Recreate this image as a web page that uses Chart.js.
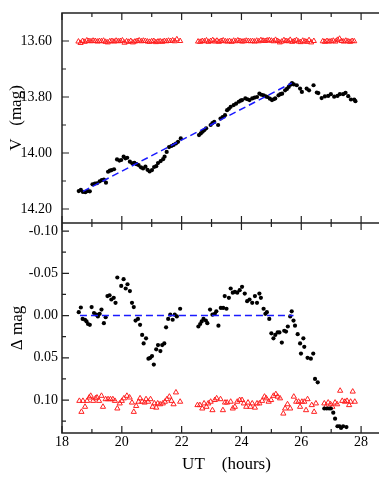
<!DOCTYPE html>
<html>
<head>
<meta charset="utf-8">
<script src="https://cdn.jsdelivr.net/npm/chart.js@4"></script>
<style>
  html, body { margin: 0; padding: 0; background: #fff; overflow: hidden; }
  canvas { display: block; }
</style>
</head>
<body>
<canvas id="lc" width="396" height="491"></canvas>
<script>
// ---- top panel: V magnitude of the target (black) and the check star (red)
const vTime = [18.56,18.63,18.70,18.78,18.86,18.93,19.02,19.10,19.17,19.26,19.33,19.40,19.47,19.54,19.60,19.66,19.74,19.84,19.92,19.98,
  20.06,20.12,20.18,20.27,20.35,20.42,20.49,20.56,20.64,20.71,20.79,20.86,20.93,21.01,21.08,21.15,21.21,21.30,21.38,21.43,
  21.50,21.58,21.66,21.73,21.81,21.88,21.97,22.58,22.64,22.70,22.76,22.82,22.97,23.03,23.09,23.22,23.30,23.37,23.45,23.52,
  23.58,23.64,23.74,23.82,23.91,23.97,24.02,24.13,24.20,24.27,24.36,24.44,24.52,24.60,24.67,24.74,24.81,24.87,24.95,25.02,
  25.08,25.13,25.24,25.30,25.36,25.46,25.52,25.58,25.64,25.69,25.75,25.85,25.96,26.02,26.18,26.26,26.41,26.52,26.57,26.68,
  26.79,26.90,26.99,27.10,27.21,27.29,27.40,27.48,27.57,27.66,27.77,27.81];
const vMag = [14.136,14.132,14.139,14.140,14.136,14.137,14.112,14.109,14.108,14.101,14.097,14.095,14.106,14.067,14.063,14.061,14.058,14.023,14.027,14.025,
  14.013,14.019,14.017,14.031,14.037,14.035,14.040,14.043,14.051,14.055,14.049,14.060,14.066,14.061,14.050,14.047,14.036,14.029,14.022,14.013,
  13.996,13.979,13.975,13.971,13.966,13.960,13.948,13.936,13.930,13.924,13.918,13.912,13.900,13.893,13.889,13.900,13.877,13.872,13.865,13.847,
  13.842,13.835,13.829,13.824,13.817,13.813,13.811,13.805,13.808,13.811,13.805,13.802,13.800,13.788,13.792,13.794,13.798,13.800,13.806,13.811,
  13.808,13.805,13.794,13.790,13.788,13.776,13.771,13.764,13.756,13.750,13.755,13.758,13.770,13.782,13.770,13.776,13.758,13.784,13.786,13.804,
  13.798,13.796,13.790,13.799,13.796,13.790,13.790,13.785,13.797,13.809,13.809,13.815];

const chkTime = [18.55,18.62,18.69,18.76,18.83,18.90,18.97,19.04,19.11,19.18,19.25,19.32,19.39,19.46,19.53,19.60,19.67,19.74,19.81,19.88,
  19.95,20.02,20.09,20.16,20.23,20.30,20.37,20.44,20.51,20.58,20.65,20.72,20.79,20.86,20.93,21.00,21.07,21.14,21.21,21.28,
  21.35,21.42,21.49,21.56,21.63,21.70,21.77,21.84,21.95,
  22.55,22.62,22.69,22.76,22.83,22.90,22.97,23.04,23.11,23.18,23.25,23.32,23.39,23.46,23.53,23.60,23.67,23.74,23.81,23.88,
  23.95,24.02,24.09,24.16,24.23,24.30,24.37,24.44,24.51,24.58,24.65,24.72,24.79,24.86,24.93,25.00,25.07,25.14,25.21,25.28,
  25.35,25.42,25.49,25.56,25.63,25.70,25.77,25.84,25.91,25.98,26.05,26.12,26.19,26.26,26.33,26.42,
  26.72,26.79,26.86,26.93,27.00,27.07,27.14,27.21,27.28,27.35,27.42,27.49,27.56,27.63,27.70,27.77];
const chkMag = [13.602,13.607,13.600,13.603,13.598,13.600,13.601,13.599,13.600,13.602,13.600,13.601,13.599,13.603,13.605,13.601,13.600,13.602,13.599,13.601,
  13.600,13.598,13.606,13.601,13.603,13.600,13.605,13.602,13.600,13.598,13.601,13.599,13.600,13.602,13.603,13.601,13.600,13.604,13.602,13.601,
  13.603,13.600,13.601,13.599,13.600,13.598,13.601,13.594,13.600,
  13.602,13.603,13.600,13.601,13.598,13.603,13.600,13.597,13.602,13.599,13.603,13.600,13.598,13.601,13.602,13.600,13.603,13.599,13.601,13.598,
  13.600,13.602,13.601,13.599,13.600,13.601,13.600,13.602,13.599,13.601,13.597,13.599,13.600,13.598,13.597,13.599,13.601,13.596,13.600,13.605,
  13.602,13.597,13.600,13.601,13.596,13.603,13.600,13.597,13.602,13.604,13.599,13.601,13.603,13.597,13.605,13.600,
  13.601,13.603,13.600,13.602,13.601,13.599,13.602,13.596,13.592,13.600,13.602,13.599,13.601,13.603,13.600,13.601];

const trendTime = [18.70, 25.68];
const trendMag = [14.137, 13.750];

// ---- bottom panel: residuals (black) and check star offset (red)
const dTime = [18.56,18.63,18.69,18.77,18.82,18.87,18.93,18.99,19.07,19.15,19.20,19.26,19.32,19.40,19.46,19.52,19.59,19.65,19.73,19.79,
  19.85,19.98,20.06,20.13,20.19,20.27,20.34,20.40,20.46,20.54,20.61,20.68,20.73,20.81,20.89,20.95,21.01,21.07,21.15,21.21,
  21.29,21.35,21.42,21.48,21.55,21.62,21.70,21.77,21.84,21.95,22.56,22.62,22.67,22.73,22.81,22.86,22.95,23.03,23.11,23.16,
  23.23,23.31,23.39,23.44,23.50,23.58,23.64,23.71,23.78,23.86,23.94,24.02,24.11,24.19,24.27,24.36,24.45,24.52,24.60,24.65,
  24.74,24.80,24.85,24.93,25.00,25.07,25.13,25.21,25.27,25.35,25.43,25.49,25.55,25.63,25.68,25.74,25.79,25.88,25.96,25.99,
  26.07,26.10,26.21,26.32,26.40,26.46,26.55,26.77,26.85,26.93,26.99,27.07,27.13,27.21,27.28,27.33,27.40,27.51];
const dMag = [-0.004,-0.0095,0.004,0.005,0.007,0.010,0.011,-0.010,-0.003,-0.001,0.001,-0.002,-0.007,0.009,0.002,-0.023,-0.024,-0.019,-0.021,-0.015,
  -0.045,-0.035,-0.043,-0.032,-0.037,-0.029,-0.015,-0.010,0.006,0.004,0.011,0.023,0.033,0.027,0.051,0.050,0.048,0.058,0.040,0.035,
  0.042,0.035,0.033,0.014,0.004,-0.001,0.005,-0.001,0.001,-0.008,0.013,0.010,0.007,0.004,0.006,0.009,-0.007,-0.001,-0.002,-0.005,
  0.012,-0.009,-0.009,-0.023,-0.008,-0.021,-0.032,-0.027,-0.028,-0.027,-0.030,-0.034,-0.026,-0.017,-0.019,-0.015,-0.023,-0.015,-0.026,-0.021,
  -0.008,-0.002,-0.004,0.004,0.021,0.027,0.023,0.020,0.020,0.032,0.018,0.019,0.013,0.001,-0.005,0.006,0.012,0.022,0.033,0.045,
  0.027,0.037,0.050,0.051,0.045,0.075,0.079,0.110,0.110,0.110,0.110,0.115,0.122,0.131,0.131,0.133,0.131,0.132];

const offTime = [18.58,18.65,18.70,18.77,18.84,18.91,18.96,19.04,19.12,19.17,19.24,19.32,19.37,19.46,19.54,19.62,19.70,19.77,19.85,19.93,
  20.00,20.07,20.17,20.26,20.34,20.40,20.48,20.56,20.61,20.68,20.76,20.81,20.88,20.96,21.03,21.09,21.15,21.20,21.28,21.37,
  21.44,21.51,21.59,21.66,21.73,21.81,21.95,
  22.53,22.61,22.69,22.75,22.83,22.89,22.97,23.03,23.11,23.17,23.30,23.38,23.45,23.52,23.64,23.71,23.78,23.86,23.94,24.02,
  24.08,24.16,24.22,24.30,24.36,24.45,24.52,24.60,24.69,24.77,24.83,24.91,24.99,25.07,25.15,25.21,25.29,25.40,25.46,25.54,
  25.63,25.75,25.83,25.91,25.96,26.02,26.10,26.16,26.21,26.35,26.43,26.49,
  26.77,26.82,26.90,26.98,27.04,27.13,27.20,27.30,27.37,27.46,27.53,27.60,27.65,27.72,27.79];
const offMag = [0.101,0.114,0.101,0.108,0.101,0.097,0.095,0.101,0.098,0.097,0.101,0.095,0.108,0.099,0.099,0.099,0.099,0.101,0.110,0.104,
  0.101,0.098,0.095,0.097,0.103,0.114,0.107,0.102,0.098,0.102,0.103,0.099,0.102,0.099,0.108,0.104,0.109,0.104,0.105,0.104,
  0.102,0.099,0.096,0.101,0.105,0.091,0.102,
  0.106,0.106,0.110,0.104,0.108,0.104,0.102,0.112,0.100,0.098,0.099,0.112,0.103,0.103,0.102,0.110,0.108,0.102,0.100,0.100,
  0.104,0.108,0.103,0.108,0.104,0.109,0.104,0.104,0.101,0.096,0.098,0.102,0.100,0.095,0.093,0.096,0.098,0.116,0.110,0.105,
  0.110,0.096,0.102,0.102,0.108,0.102,0.102,0.112,0.099,0.106,0.114,0.104,
  0.104,0.108,0.103,0.105,0.108,0.103,0.105,0.089,0.101,0.102,0.101,0.106,0.102,0.090,0.102];

const flatTime = [18.60, 25.74];
const flatMag = [0.0, 0.0];

const xTicks = [18, 20, 22, 24, 26, 28];
const vTicks = [13.6, 13.8, 14.0, 14.2];
const dTicks = [-0.10, -0.05, 0.00, 0.05, 0.10];

function pts(xs, ys) {
  return xs.map((x, i) => ({ x: x, y: ys[i] }));
}

const serif = "'Liberation Serif', 'Times New Roman', serif";

// frame and inward tick marks, drawn on the chart's own scales
const framePlugin = {
  id: 'frame',
  afterDatasetsDraw(chart) {
    const ctx = chart.ctx;
    const xs = chart.scales.x, yt = chart.scales.yTop, yb = chart.scales.yBot;
    const L = xs.left, R = xs.right, T = yt.top, M = yt.bottom, B = yb.bottom;
    ctx.save();
    ctx.strokeStyle = '#222';
    ctx.lineWidth = 1.5;
    ctx.beginPath();
    ctx.moveTo(R, T); ctx.lineTo(L, T); ctx.lineTo(L, B); ctx.lineTo(R, B);
    ctx.moveTo(L, M); ctx.lineTo(R, M);
    ctx.stroke();

    ctx.lineWidth = 1.2;
    ctx.beginPath();
    for (let h = 18; h <= 29; h++) {
      const px = xs.getPixelForValue(h);
      const len = h % 2 === 0 ? 7 : 4;
      ctx.moveTo(px, T); ctx.lineTo(px, T + len);
      ctx.moveTo(px, M); ctx.lineTo(px, M - len);
      ctx.moveTo(px, M); ctx.lineTo(px, M + len);
      ctx.moveTo(px, B); ctx.lineTo(px, B - len);
    }
    [13.6, 13.7, 13.8, 13.9, 14.0, 14.1, 14.2].forEach((v, i) => {
      const py = yt.getPixelForValue(v);
      ctx.moveTo(L, py); ctx.lineTo(L + (i % 2 === 0 ? 7 : 4), py);
    });
    [-0.1, -0.075, -0.05, -0.025, 0, 0.025, 0.05, 0.075, 0.1, 0.125].forEach((v, i) => {
      const py = yb.getPixelForValue(v);
      ctx.moveTo(L, py); ctx.lineTo(L + (i % 2 === 0 ? 7 : 4), py);
    });
    ctx.stroke();
    ctx.restore();
  }
};

// fixed box sizes, and no extra room reserved for edge labels
const yFit = (w) => function (scale) {
  scale.width = w;
  scale.paddingTop = 0;
  scale.paddingBottom = 0;
};

new Chart(document.getElementById('lc'), {
  type: 'scatter',
  data: {
    datasets: [
      { data: pts(trendTime, trendMag), yAxisID: 'yTop', showLine: true, pointRadius: 0,
        borderColor: '#1a1aff', borderWidth: 1.5, borderDash: [7, 4] },
      { data: pts(flatTime, flatMag), yAxisID: 'yBot', showLine: true, pointRadius: 0,
        borderColor: '#1a1aff', borderWidth: 1.5, borderDash: [7, 4] },
      { data: pts(vTime, vMag), yAxisID: 'yTop', pointRadius: 2.1, pointStyle: 'circle',
        backgroundColor: '#000', borderColor: '#000', borderWidth: 0 },
      { data: pts(dTime, dMag), yAxisID: 'yBot', pointRadius: 2.1, pointStyle: 'circle',
        backgroundColor: '#000', borderColor: '#000', borderWidth: 0 },
      { data: pts(chkTime, chkMag), yAxisID: 'yTop', pointRadius: 3, pointStyle: 'triangle',
        backgroundColor: 'rgba(255,255,255,0)', borderColor: '#ff2020', borderWidth: 1 },
      { data: pts(offTime, offMag), yAxisID: 'yBot', pointRadius: 3, pointStyle: 'triangle',
        backgroundColor: 'rgba(255,255,255,0)', borderColor: '#ff2020', borderWidth: 1 }
    ]
  },
  options: {
    responsive: false,
    animation: false,
    events: [],
    layout: { padding: { top: 13, left: 0, right: 3, bottom: 0 } },
    plugins: { legend: { display: false }, tooltip: { enabled: false } },
    scales: {
      x: {
        type: 'linear', min: 18, max: 29,
        grid: { display: false, drawTicks: false, tickLength: 0 }, border: { display: false },
        afterFit: function (scale) { scale.height = 58; scale.paddingLeft = 0; scale.paddingRight = 0; },
        ticks: {
          stepSize: 2, includeBounds: false, padding: 1, color: '#000',
          font: { family: serif, size: 14 },
          callback: (v) => xTicks.includes(v) ? String(v) : ''
        },
        title: { display: true, text: 'UT    (hours)', color: '#000',
          font: { family: serif, size: 17 }, padding: { top: 0, bottom: 16 } }
      },
      yTop: {
        type: 'linear', position: 'left', stack: 'panels', stackWeight: 1, weight: 1,
        reverse: true, min: 13.5, max: 14.25,
        grid: { display: false, drawTicks: false, tickLength: 0 }, border: { display: false },
        afterFit: yFit(62),
        ticks: {
          stepSize: 0.2, includeBounds: false, padding: 10, color: '#000',
          font: { family: serif, size: 14 },
          callback: (v) => vTicks.some(t => Math.abs(t - v) < 1e-6) ? v.toFixed(2) : ''
        },
        title: { display: true, text: 'V   (mag)', color: '#000',
          font: { family: serif, size: 17 }, padding: { top: 6, bottom: 0 } }
      },
      yBot: {
        type: 'linear', position: 'left', stack: 'panels', stackWeight: 1, weight: 0,
        reverse: true, min: -0.1095, max: 0.139,
        grid: { display: false, drawTicks: false, tickLength: 0 }, border: { display: false },
        afterFit: yFit(62),
        ticks: {
          stepSize: 0.05, includeBounds: false, padding: 4, color: '#000',
          font: { family: serif, size: 14 },
          callback: (v) => dTicks.some(t => Math.abs(t - v) < 1e-6) ? v.toFixed(2) : ''
        },
        title: { display: true, text: 'Δ mag', color: '#000',
          font: { family: serif, size: 17 }, padding: { top: 7, bottom: 0 } }
      }
    }
  },
  plugins: [framePlugin]
});
</script>
</body>
</html>
